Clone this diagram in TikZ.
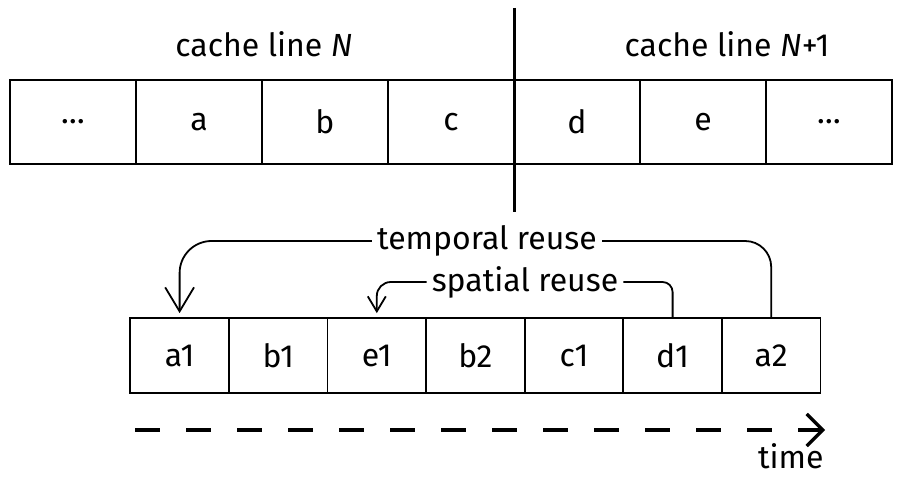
\documentclass[tikz,border=0pt]{standalone}
\usepackage{fontspec}
\setmainfont{Fira Sans}
\usetikzlibrary{positioning,arrows.meta}
\begin{document}
\begin{tikzpicture}[x=1pt,y=-1pt,
    cell/.style={draw,line width=1.8pt,minimum width=126pt,minimum height=84pt,inner sep=0pt},
    slot/.style={draw,line width=1.8pt,minimum width=98.6pt,minimum height=75pt,inner sep=0pt},
    reuse/.style={line width=1.8pt,-{Straight Barb[length=#1,width=1.2*#1]},shorten >=4pt},
    every node/.style={font=\fontsize{32}{36}\selectfont}]
      \useasboundingbox (0,0) rectangle (903,481);
      % cache lines
      \foreach \lbl [count=\i from 0] in {\ldots,a,b,c,d,e,\ldots} {
        \node[cell] (line\i) at (73+126*\i,122) {\lbl};
      }
      \node (lblN) at (264,44) {cache line \textit{N}};
      \node (lblNext) at (727,44) {cache line \textit{N}+1};
      \coordinate (sepTop) at (514,8);
      \coordinate (sepBot) at (514,212);
      \draw[line width=3pt] (sepTop) -- (sepBot);
      % access order
      \foreach \lbl [count=\i] in {a1,b1,e1,b2,c1,d1,a2} {
        \node[slot] (acc\i) at (81+98.6*\i,355.5) {\lbl};
      }
      \node[inner sep=5pt] (tmp) at (487,241) {temporal reuse};
      \node[inner sep=5pt] (spa) at (525,282) {spatial reuse};
      \draw[rounded corners=26pt,line width=1.8pt] (acc7.north) |- (tmp.east);
      \draw[rounded corners=32pt,reuse=24pt] (tmp.west) -| (acc1.north);
      \draw[rounded corners=10pt,line width=1.8pt] (acc6.north) |- (spa.east);
      \draw[rounded corners=14pt,reuse=15pt] (spa.west) -| (acc3.north);
      % time axis
      \coordinate (tStart) at (135,430);
      \coordinate (tEnd) at (825,430);
      \draw[line width=3.2pt,dash pattern=on 25pt off 26pt,-{Straight Barb[length=16pt,width=32pt]}] (tStart) -- (tEnd);
      \node[below left=10pt and -2pt of tEnd] (timeLbl) {time};
    \end{tikzpicture}
\end{document}
